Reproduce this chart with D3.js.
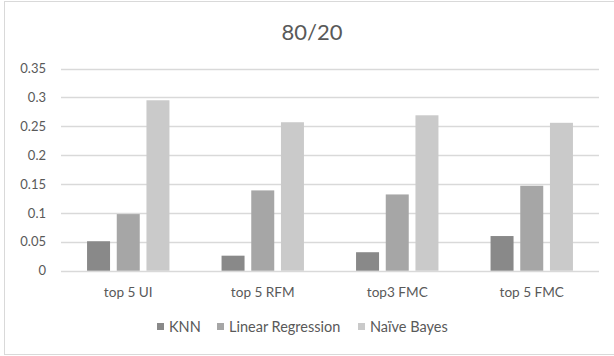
<!DOCTYPE html>
<html>
<head>
<meta charset="utf-8">
<script src="https://cdn.jsdelivr.net/npm/d3@7"></script>
<style>
  html, body { margin: 0; padding: 0; background: #fff; }
  svg { display: block; font-family: Lato, "Open Sans", sans-serif; }
</style>
</head>
<body>
<svg id="chart" width="614" height="356"></svg>
<script>
const categories = ["top 5 UI", "top 5 RFM", "top3 FMC", "top 5 FMC"];
const seriesNames = ["KNN", "Linear Regression", "Naïve Bayes"];
const knn = [0.051, 0.026, 0.032, 0.060];
const linearRegression = [0.098, 0.139, 0.132, 0.147];
const naiveBayes = [0.295, 0.257, 0.269, 0.256];
const yTicks = [0, 0.05, 0.1, 0.15, 0.2, 0.25, 0.3, 0.35];
const title = "80/20";

const seriesValues = [knn, linearRegression, naiveBayes];
const colors = ["#898989", "#a6a6a6", "#cacaca"];

const svg = d3.select("#chart");
const W = 614, H = 356;

// outer chart frame
svg.append("rect")
  .attr("x", 4.5).attr("y", 1.5)
  .attr("width", W + 10).attr("height", H - 3)
  .attr("fill", "#fff").attr("stroke", "#d9d9d9").attr("stroke-width", 1);

const x0 = d3.scaleBand().domain(categories).range([61, 599]).paddingInner(0).paddingOuter(0);
const y = d3.scaleLinear().domain([0, 0.35]).range([270.7, 68.5]);

// gridlines
svg.append("g").selectAll("line").data(yTicks).join("line")
  .attr("x1", 61).attr("x2", 599)
  .attr("y1", d => Math.round(y(d)) + 0.5).attr("y2", d => Math.round(y(d)) + 0.5)
  .attr("stroke", "#d9d9d9").attr("stroke-width", 1.3);

// y-axis labels
const yAxis = d3.axisLeft(y).tickValues(yTicks).tickSize(0).tickPadding(0)
  .tickFormat(d => d3.format("")(+d.toFixed(2)));
const gy = svg.append("g").attr("transform", "translate(46,0)").call(yAxis);
gy.select(".domain").remove();
gy.selectAll("text").attr("fill", "#595959").attr("font-size", "13px")
  .attr("font-family", "Lato, 'Open Sans', sans-serif");

// bars
const x1 = d3.scaleBand().domain(d3.range(seriesNames.length))
  .range([0, x0.bandwidth()]).paddingInner(0.226).paddingOuter(0.877);

const groups = svg.append("g").selectAll("g").data(categories).join("g")
  .attr("transform", d => `translate(${x0(d)},0)`);
groups.selectAll("rect")
  .data((c, i) => seriesValues.map((s, k) => ({ k, v: s[i] })))
  .join("rect")
  .attr("x", d => x1(d.k))
  .attr("width", x1.bandwidth())
  .attr("y", d => y(d.v))
  .attr("height", d => y(0) - y(d.v))
  .attr("fill", d => colors[d.k]);

// x-axis labels
const xAxis = d3.axisBottom(x0).tickSize(0).tickPadding(0);
const gx = svg.append("g").attr("transform", "translate(0,287)").call(xAxis);
gx.select(".domain").remove();
gx.selectAll("text").attr("fill", "#595959").attr("font-size", "13.6px")
  .attr("font-family", "Lato, 'Open Sans', sans-serif");

// title
svg.append("text").attr("x", 312).attr("y", 40).attr("text-anchor", "middle")
  .attr("fill", "#595959").attr("font-size", "22px").text(title);

// legend
const legendX = [157, 217, 358];
const lg = svg.append("g").selectAll("g").data(seriesNames).join("g")
  .attr("transform", (d, i) => `translate(${legendX[i]},0)`);
lg.append("rect").attr("x", 0).attr("y", 323).attr("width", 7).attr("height", 7)
  .attr("fill", (d, i) => colors[i]);
lg.append("text").attr("x", 12).attr("y", 331.5)
  .attr("fill", "#595959").attr("font-size", "14.5px").text(d => d);
</script>
</body>
</html>
